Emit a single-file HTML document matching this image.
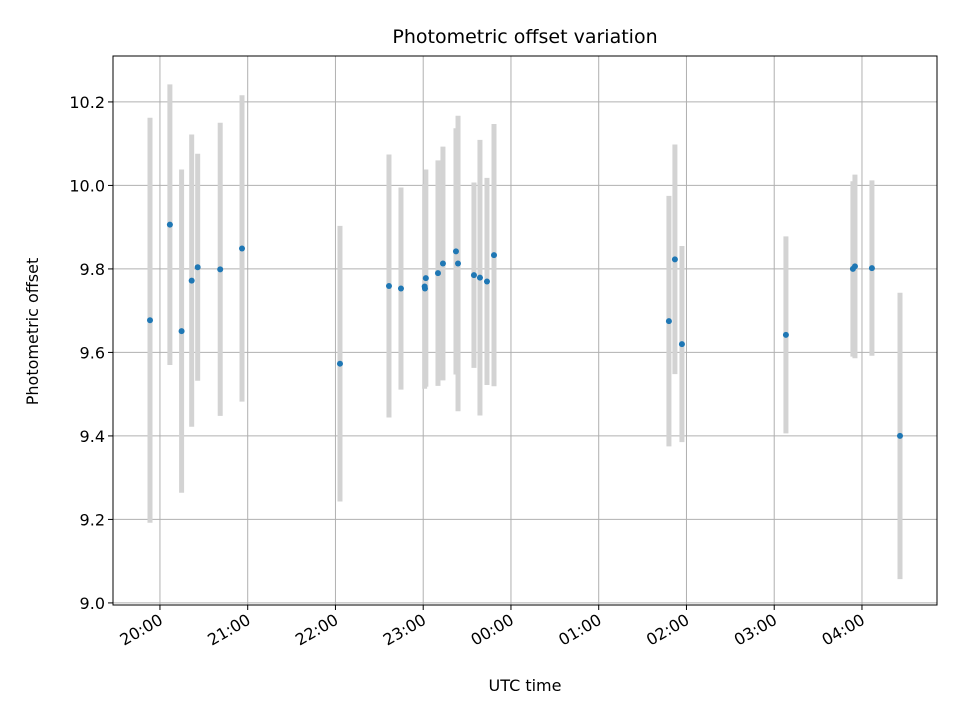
<!DOCTYPE html>
<html><head><meta charset="utf-8"><style>
html,body{margin:0;padding:0;background:#fff;}
svg{display:block;font-family:"DejaVu Sans","Liberation Sans",sans-serif;}
</style></head><body>
<svg id="chart" width="960" height="720"></svg>
<script>
const times=["19:53:12","20:06:48","20:14:48","20:21:42","20:25:48","20:41:12","20:56:06","22:03:06","22:36:36","22:44:48","23:01:00","23:01:12","23:01:48","23:10:06","23:13:30","23:22:24","23:23:48","23:34:42","23:38:48","23:43:36","23:48:24","01:48:00","01:52:06","01:56:54","03:08:00","03:53:48","03:55:12","04:06:48","04:26:00"];
const values=[9.677,9.906,9.651,9.772,9.804,9.799,9.849,9.573,9.759,9.753,9.758,9.753,9.778,9.790,9.813,9.842,9.813,9.785,9.779,9.770,9.833,9.675,9.823,9.620,9.642,9.800,9.806,9.802,9.400];
const errors=[0.485,0.336,0.387,0.35,0.272,0.351,0.367,0.33,0.315,0.242,0.245,0.235,0.26,0.27,0.28,0.295,0.354,0.222,0.33,0.248,0.314,0.30,0.275,0.235,0.236,0.21,0.22,0.21,0.343];
const yTicks=[9.0,9.2,9.4,9.6,9.8,10.0,10.2];
const xTickLabels=["20:00","21:00","22:00","23:00","00:00","01:00","02:00","03:00","04:00"];

const NS="http://www.w3.org/2000/svg";
const svg=document.getElementById('chart');
const L=113,R=937,T=56,B=605;
const xMin=-32.1,xMax=531.3;
const yMin=8.995,yMax=10.31;
function toMin(s){const p=s.split(':').map(Number);let h=p[0];if(h<12)h+=24;return (h-20)*60+p[1]+(p[2]||0)/60;}
function xs(m){return L+(m-xMin)/(xMax-xMin)*(R-L);}
function ys(v){return B-(v-yMin)/(yMax-yMin)*(B-T);}
function mk(tag,attrs,parent){const e=document.createElementNS(NS,tag);for(const k in attrs)e.setAttribute(k,attrs[k]);(parent||svg).appendChild(e);return e;}

const grid=mk('g',{});


yTicks.forEach(v=>{const y=ys(v);
 const l=mk('line',{x1:L,x2:R,y1:y,y2:y,stroke:'#b0b0b0','stroke-width':1},grid);
 
 const t=mk('line',{x1:L-5,x2:L,y1:y,y2:y,stroke:'#000','stroke-width':1});
 
 const tx=mk('text',{x:L-8,y:y+6,'text-anchor':'end','font-size':16});
 tx.textContent=v.toFixed(1);
 
});
xTickLabels.forEach((s,i)=>{const x=xs(i*60);
 const l=mk('line',{x1:x,x2:x,y1:T,y2:B,stroke:'#b0b0b0','stroke-width':1},grid);
 
 const t=mk('line',{x1:x,x2:x,y1:B,y2:B+5,stroke:'#000','stroke-width':1});
 
 const tx=mk('text',{x:x+4,y:B+18,'text-anchor':'end','font-size':16,transform:`rotate(-30 ${x+4} ${B+18})`});
 tx.textContent=s;
 
});
const eg=mk('g',{});

const pg=mk('g',{});

times.forEach((s,i)=>{const x=xs(toMin(s));
 const e=mk('line',{x1:x,x2:x,y1:ys(values[i]+errors[i]),y2:ys(values[i]-errors[i]),stroke:'#d3d3d3','stroke-width':5},eg);
 
 const c=mk('circle',{cx:x,cy:ys(values[i]),r:3,fill:'#1f77b4'},pg);
 
});
const fr=mk('rect',{x:L,y:T,width:R-L,height:B-T,fill:'none',stroke:'#000','stroke-width':1});

const ti=mk('text',{x:(L+R)/2,y:43,'text-anchor':'middle','font-size':19});
ti.textContent='Photometric offset variation';

const xl=mk('text',{x:(L+R)/2,y:691,'text-anchor':'middle','font-size':16});
xl.textContent='UTC time';

const yl=mk('text',{x:38,y:(T+B)/2+1,'text-anchor':'middle','font-size':16,transform:`rotate(-90 38 ${(T+B)/2+1})`});
yl.textContent='Photometric offset';

</script>
</body></html>
